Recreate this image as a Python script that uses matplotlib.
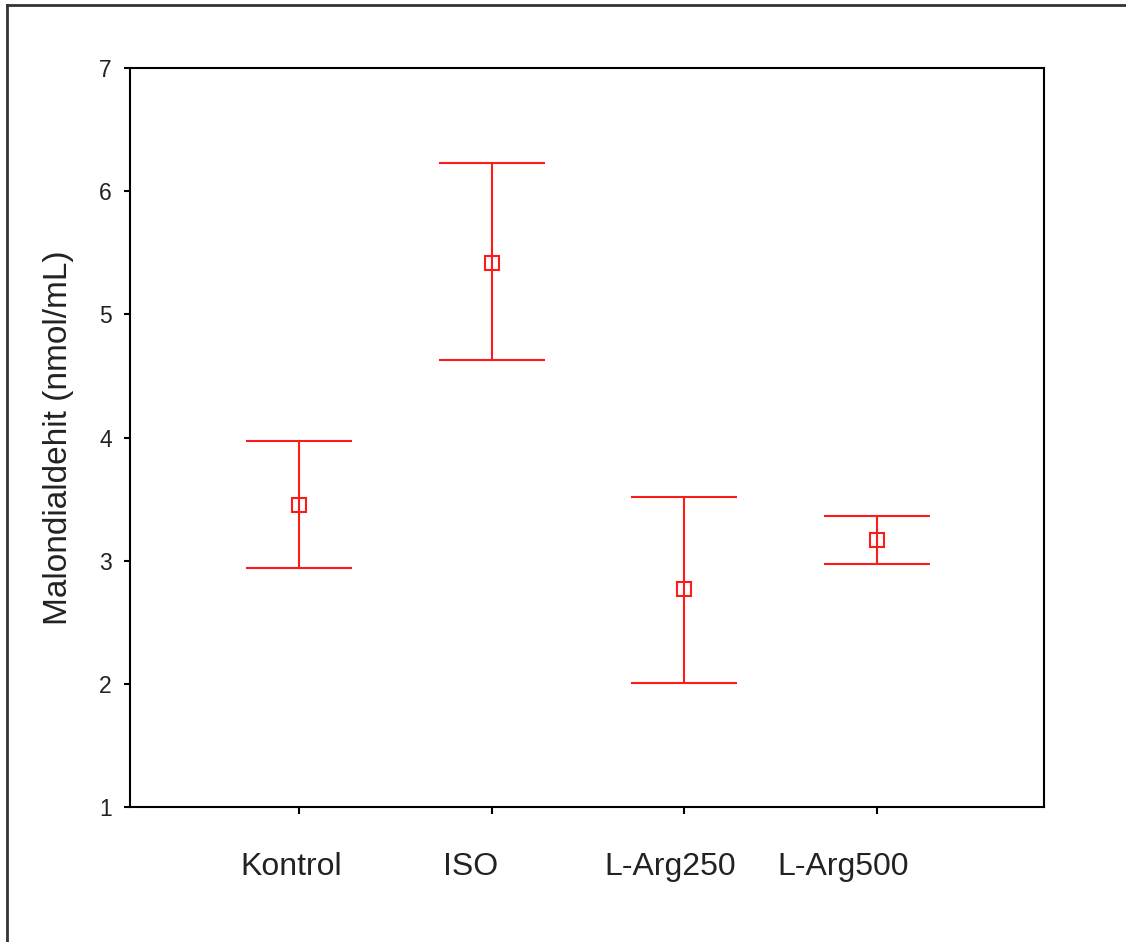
import matplotlib
matplotlib.use("Agg")
import matplotlib.pyplot as plt
from matplotlib.lines import Line2D
import matplotlib.transforms as mtransforms

plt.rcParams['font.family'] = ['Liberation Sans', 'DejaVu Sans']

categories = ["Kontrol", "ISO", "L-Arg250", "L-Arg500"]
means = [3.45, 5.42, 2.77, 3.17]
upper = [3.97, 6.23, 3.52, 3.36]
lower = [2.94, 4.63, 2.01, 2.97]
y_ticks = [1, 2, 3, 4, 5, 6, 7]
y_label = "Malondialdehit (nmol/mL)"
label_shift_px = [-8, -21, -14, -34]

W, H = 1126, 942
fig = plt.figure(figsize=(W / 100, H / 100), dpi=100)
ax = fig.add_axes([130 / W, 1 - 807 / H, (1044 - 130) / W, (807 - 68) / H])

xs = list(range(1, len(categories) + 1))
yerr = [[m - l for m, l in zip(means, lower)], [u - m for u, m in zip(upper, means)]]
red = "#ff1a1a"
ax.errorbar(xs, means, yerr=yerr, fmt='s', color=red, ecolor=red,
            markerfacecolor='none', markeredgecolor=red, markersize=9.5,
            markeredgewidth=1.5, elinewidth=1.5, capsize=38.5, capthick=1.5,
            zorder=3)

ax.set_xlim(0.123, 4.867)
ax.set_ylim(1, 7)
ax.set_yticks(y_ticks)
ax.set_yticklabels([str(t) for t in y_ticks])
ax.set_xticks(xs)
ax.set_xticklabels([])
ax.tick_params(axis='x', length=5, width=1.5, color='black')
ax.tick_params(axis='y', length=4, width=1.5, pad=9, labelsize=16.5, colors='#222222')
ax.tick_params(axis='y', color='black')
for s in ax.spines.values():
    s.set_linewidth(1.5)
    s.set_color('black')
ax.set_ylabel(y_label, fontsize=24, color='#222222', labelpad=18)

# category labels, slightly shifted left as in the original layout
blend = mtransforms.blended_transform_factory(ax.transData, ax.transAxes)
for x, name, dx in zip(xs, categories, label_shift_px):
    ax.annotate(name, xy=(x, 0), xycoords=blend, xytext=(dx, -45),
                textcoords='offset pixels', ha='center', va='top',
                fontsize=23, color='#222222', annotation_clip=False)

# outer frame
fig.add_artist(Line2D([7 / W, 7 / W], [0, 1 - 5 / H], transform=fig.transFigure,
                      color='#333333', linewidth=2))
fig.add_artist(Line2D([7 / W, 1], [1 - 5 / H, 1 - 5 / H], transform=fig.transFigure,
                      color='#333333', linewidth=2))

fig.savefig("out.png", dpi=100)
